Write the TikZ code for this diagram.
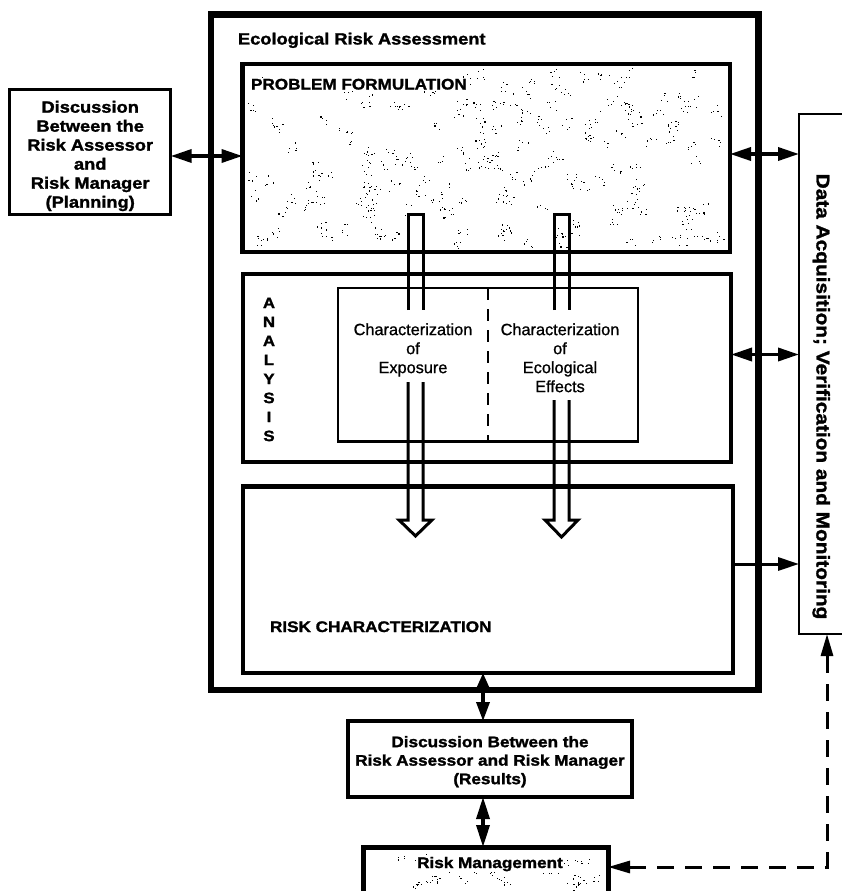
\documentclass[tikz,border=0pt]{standalone}
\usepackage{fontspec}
\setmainfont{Liberation Sans}
\newfontfamily\hvb{Liberation Sans}[FakeStretch=1.12, BoldFeatures={FakeBold=1.6}]
\newfontfamily\hvr{Liberation Sans}[FakeBold=0.9]
\usetikzlibrary{arrows.meta}
\begin{document}
\begin{tikzpicture}[x=1pt,y=-1pt,line join=miter,
  every node/.style={inner sep=0pt,outer sep=0pt},
  hd/.style={font=\hvb\bfseries\fontsize{15.3}{18.5}\selectfont},
  hdb/.style={font=\hvb\bfseries\fontsize{16.3}{19}\selectfont},
  rg/.style={font=\hvr\fontsize{16.3}{19}\selectfont,align=center},
  harr/.style={line width=3.5pt,{Triangle[length=21pt,width=13pt]}-{Triangle[length=21pt,width=13pt]}},
  sarr/.style={line width=3pt,-{Triangle[length=21pt,width=13pt]}},
  varrA/.style={line width=3.5pt,{Triangle[length=16pt,width=13pt]}-{Triangle[length=19pt,width=13pt]}},
  varrB/.style={line width=3.5pt,{Triangle[length=22pt,width=13pt]}-{Triangle[length=22pt,width=13pt]}},
  dsh/.style={line width=3pt,dash pattern=on 17pt off 11pt,{Triangle[length=22pt,width=12pt]}-{Triangle[length=22pt,width=12pt]}},
  hollow/.style={line width=3pt}
]
\useasboundingbox (0,0) rectangle (842,891);

% stipple texture
\pgfmathsetseed{7}
\foreach \k in {1,...,170} {
  \pgfmathsetmacro{\cx}{252+rnd*470}
  \pgfmathsetmacro{\cy}{72+rnd*172}
  \foreach \j in {1,...,5} {
    \pgfmathsetmacro{\dx}{\cx+rand*6}
    \pgfmathsetmacro{\dy}{\cy+rand*6}
    \fill (\dx,\dy) rectangle ++(1.1,1.1);
  }
}
\foreach \k in {1,...,30} {
  \pgfmathsetmacro{\cx}{372+rnd*228}
  \pgfmathsetmacro{\cy}{855+rnd*32}
  \foreach \j in {1,...,4} {
    \pgfmathsetmacro{\dx}{\cx+rand*5}
    \pgfmathsetmacro{\dy}{\cy+rand*4}
    \fill (\dx,\dy) rectangle ++(1.1,1.1);
  }
}

% boxes
\node[draw,line width=6.5pt,anchor=north west,minimum width=547.5pt,minimum height=675.5pt] (outer) at (211,14.5) {};
\node[draw,line width=4.5pt,anchor=north west,minimum width=487.5pt,minimum height=188pt] (pf) at (242.5,64) {};
\node[draw,line width=4.5pt,anchor=north west,minimum width=488pt,minimum height=188pt] (an) at (243,274) {};
\node[draw,line width=2.7pt,anchor=north west,minimum width=300pt,minimum height=153.5pt] (inner) at (338,288) {};
\node[draw,line width=4.5pt,anchor=north west,minimum width=490pt,minimum height=186.5pt] (rc) at (243,486.5) {};
\node[draw,line width=2.5pt,anchor=north west,minimum width=101pt,minimum height=520pt] (data) at (799,114) {};
\node[draw,line width=2.5pt,anchor=north west,minimum width=161pt,minimum height=125pt] (plan) at (9.7,89.5) {};
\node[draw,line width=3.3pt,anchor=north west,minimum width=284pt,minimum height=76pt] (res) at (348,721) {};
\node[draw,line width=5pt,anchor=north west,minimum width=245pt,minimum height=73pt] (rm) at (363,847) {};

% texts
\node[hdb,anchor=base west] (title) at (238,44.5) {Ecological Risk Assessment};
\node[hd,anchor=base west,fill=white,inner sep=1pt] (pfT) at (250,89.5) {PROBLEM FORMULATION};
\node[hd,anchor=base west] (rcT) at (270,632) {RISK CHARACTERIZATION};
\node[font=\hvb\bfseries\fontsize{15}{19}\selectfont,align=center] (anT) at (269,369.5) {A\\N\\A\\L\\Y\\S\\I\\S};
\node[rg] (expT) at (413,349.9) {Characterization\\of\\Exposure};
\node[rg] (effT) at (560,357.8) {Characterization\\of\\Ecological\\Effects};
\node[hdb,align=center] (planT) at (90.2,156) {Discussion\\Between the\\Risk Assessor\\and\\Risk Manager\\(Planning)};
\node[hd,align=center] (resT) at (490,761.7) {Discussion Between the\\Risk Assessor and Risk Manager\\(Results)};
\node[hd,anchor=base,fill=white,inner sep=1pt] (rmT) at (490,868) {Risk Management};
\node[font=\hvb\bfseries\fontsize{18.6}{20}\selectfont,rotate=-90,anchor=base] (dataT) at (816.5,396.5) {Data Acquisition; Verification and Monitoring};

% dashed divider in the analysis box
\coordinate (xM) at (488,0);
\draw[line width=2.5pt,dash pattern=on 12pt off 9pt] (inner.north -| xM) -- (inner.south -| xM);

% hollow arrows
\draw[hollow] (408,310) -- (408,214) -- (423,214) -- (423,310);
\draw[hollow] (408,382) -- (408,520) -- (399,520) -- (415.5,536) -- (432,520) -- (423,520) -- (423,382);
\draw[hollow] (554,310) -- (554,214) -- (569,214) -- (569,310);
\draw[hollow] (554,400) -- (554,520) -- (545,520) -- (561.5,537) -- (578,520) -- (569,520) -- (569,400);

% connectors
\coordinate (yA) at (0,156);
\coordinate (yB) at (0,154);
\coordinate (yC) at (0,354.5);
\coordinate (yD) at (0,564);
\coordinate (yF) at (0,867);
\coordinate (xE) at (483,0);
\coordinate (xG) at (827,0);
\draw[harr] (plan.east |- yA) -- (pf.west |- yA);
\draw[harr] (pf.east |- yB) -- (data.west |- yB);
\draw[harr] (an.east |- yC) -- (data.west |- yC);
\draw[sarr] (rc.east |- yD) -- (data.west |- yD);
\draw[varrA] (rc.south -| xE) -- (res.north -| xE);
\draw[varrB] (res.south -| xE) -- (rm.north -| xE);
\draw[dsh] (rm.east |- yF) -| (data.south -| xG);
\end{tikzpicture}
\end{document}
